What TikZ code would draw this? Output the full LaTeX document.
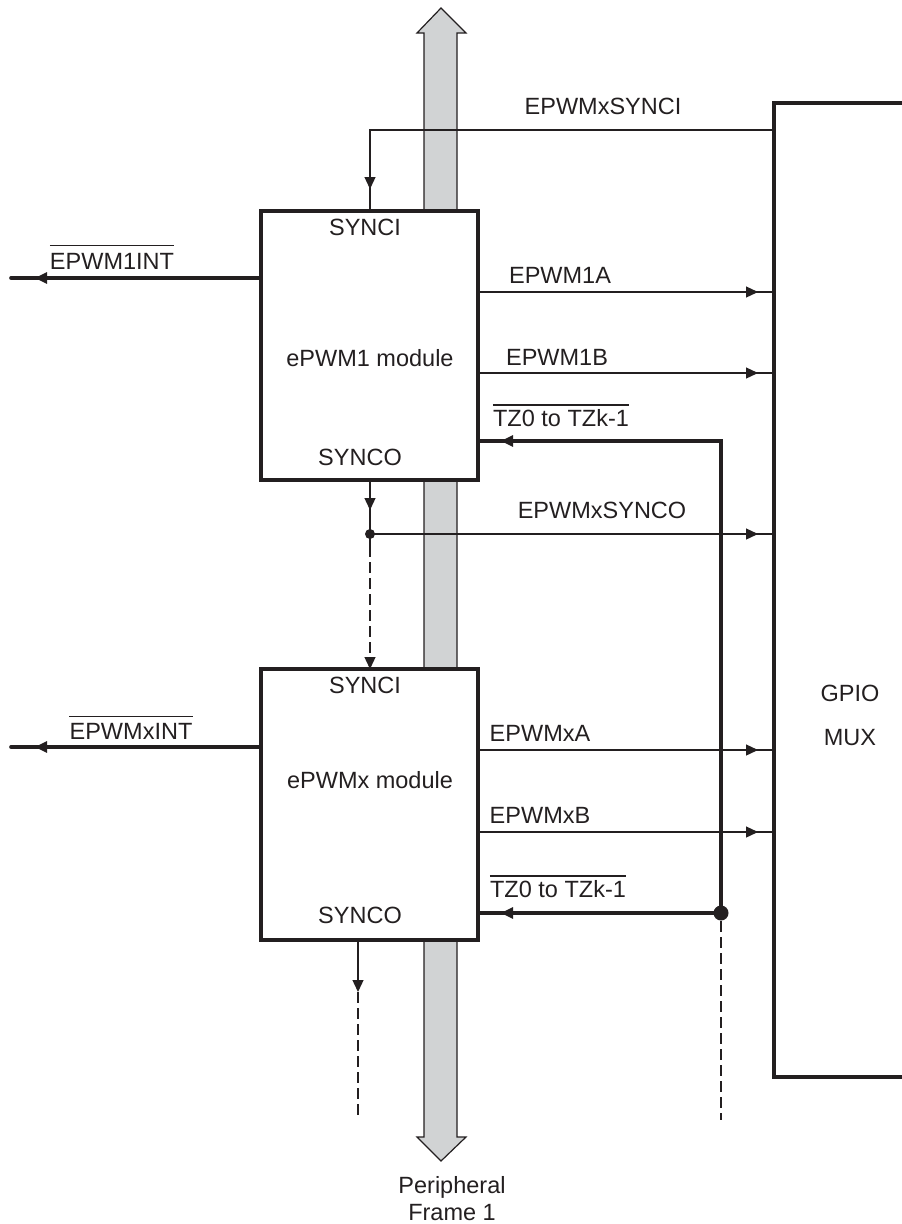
\documentclass[tikz,border=0pt]{standalone}
\usepackage{fontspec}
\setmainfont{Liberation Sans}
\usetikzlibrary{arrows.meta,decorations.markings}
\definecolor{ink}{RGB}{35,31,32}
\definecolor{busgray}{RGB}{209,211,212}
\tikzset{
  lbl/.style={font=\fontsize{23.5}{28}\selectfont, text=ink, inner sep=0pt},
  thinline/.style={draw=ink, line width=1.3pt},
  thickline/.style={draw=ink, line width=3.6pt, line join=miter},
  dashline/.style={draw=ink, line width=1.3pt, dash pattern=on 11pt off 5pt},
  module/.style={draw=ink, line width=3.3pt, fill=white, minimum width=217pt, inner sep=0pt},
  tipend/.style={-{Triangle[length=12pt,width=11pt]}},
  markend/.style={postaction={decorate}, decoration={markings, mark=at position -#1 with {\arrow{Triangle[length=12pt,width=11pt]}}}},
  ovlline/.style={draw=ink, line width=1.4pt},
}
\begin{document}
\begin{tikzpicture}[x=1pt,y=-1pt]
\useasboundingbox (0,0) rectangle (902,1224);

% peripheral frame bus
\filldraw[fill=busgray, draw=ink, line width=1.2pt]
  (441,8) -- (466,33) -- (457,33) -- (457,1137) -- (466,1137) -- (441,1161)
  -- (417,1137) -- (424,1137) -- (424,33) -- (417,33) -- cycle;
\node[lbl] (pf1) at (452,1187) {Peripheral};
\node[lbl] (pf2) at (452,1213) {Frame 1};

% modules
\node[module, minimum height=269pt] (m1) at (369.5,345.5) {};
\node[module, minimum height=271pt] (m2) at (369.5,804.5) {};

\node[lbl] (m1si) at (365,227) {SYNCI};
\node[lbl] (m1nm) at (370,358) {ePWM1 module};
\node[lbl] (m1so) at (360,457) {SYNCO};
\node[lbl] (m2si) at (365,685) {SYNCI};
\node[lbl] (m2nm) at (370,780) {ePWMx module};
\node[lbl] (m2so) at (360,915) {SYNCO};

% GPIO MUX
\coordinate (gtr) at (902,103);
\coordinate (gtl) at (774,103);
\coordinate (gbl) at (774,1077);
\coordinate (gbr) at (902,1077);
\draw[thickline] (gtr) -- (gtl) -- (gbl) -- (gbr);
\node[lbl] (gpio) at (850,693) {GPIO};
\node[lbl] (mux) at (850,738) {MUX};

% EPWMxSYNCI
\coordinate (siR) at (774,130);
\coordinate (siC) at (370,130);
\coordinate (siB) at (370,211);
\draw[thinline, markend=22pt] (siR) -- (siC) -- (siB);
\node[lbl] (lsi) at (603,106) {EPWMxSYNCI};

% ePWM1 outputs
\coordinate (a1L) at (478,292);
\coordinate (a1R) at (774,292);
\coordinate (b1L) at (478,373);
\coordinate (b1R) at (774,373);
\draw[thinline, markend=16pt] (a1L) -- (a1R);
\draw[thinline, markend=16pt] (b1L) -- (b1R);
\node[lbl] (la1) at (560,275) {EPWM1A};
\node[lbl] (lb1) at (557,357) {EPWM1B};

% EPWM1INT
\coordinate (i1R) at (261,278);
\coordinate (i1L) at (11,278);
\draw[thickline, line cap=round, markend=24pt] (i1R) -- (i1L);
\node[lbl] (li1) at (112,261) {EPWM1INT};
\draw[ovlline] ([yshift=7pt]li1.north west) -- ([yshift=7pt]li1.north east);

% EPWMxINT
\coordinate (ixR) at (261,747);
\coordinate (ixL) at (11,747);
\draw[thickline, line cap=round, markend=24pt] (ixR) -- (ixL);
\node[lbl] (lix) at (131,731) {EPWMxINT};
\draw[ovlline] ([yshift=6pt]lix.north west) -- ([yshift=6pt]lix.north east);

% trip zones
\coordinate (tzdot) at (721,913);
\coordinate (tzc) at (721,441);
\coordinate (tz1L) at (478,441);
\coordinate (tz2L) at (478,913);
\coordinate (tzend) at (721,1120);
\draw[thickline, markend=23pt] (tzdot) -- (tzc) -- (tz1L);
\draw[thickline, markend=23pt] (tzdot) -- (tz2L);
\fill[ink] (tzdot) circle (7.5);
\draw[dashline] ([yshift=-8pt]tzdot) -- (tzend);
\node[lbl] (ltz1) at (561,418) {TZ0 to TZk-1};
\draw[ovlline] ([yshift=4pt]ltz1.north west) -- ([yshift=4pt]ltz1.north east);
\node[lbl] (ltz2) at (558,889) {TZ0 to TZk-1};
\draw[ovlline] ([yshift=4pt]ltz2.north west) -- ([yshift=4pt]ltz2.north east);

% SYNCO chain
\coordinate (so1T) at (370,480);
\coordinate (sodot) at (370,534);
\coordinate (sodash) at (370,546);
\coordinate (si2T) at (370,669);
\coordinate (soR) at (774,534);
\draw[thinline, markend=24pt] (so1T) -- (sodot);
\fill[ink] (sodot) circle (5);
\draw[thinline, markend=16pt] (sodot) -- (soR);
\node[lbl] (lso) at (602,510) {EPWMxSYNCO};
\draw[thinline] (sodot) -- (sodash);
\draw[dashline, tipend] (sodash) -- (si2T);

% ePWMx outputs
\coordinate (a2L) at (478,750);
\coordinate (a2R) at (774,750);
\coordinate (b2L) at (478,832);
\coordinate (b2R) at (774,832);
\draw[thinline, markend=16pt] (a2L) -- (a2R);
\draw[thinline, markend=16pt] (b2L) -- (b2R);
\node[lbl] (la2) at (540,733) {EPWMxA};
\node[lbl] (lb2) at (540,815) {EPWMxB};

% SYNCO of ePWMx
\coordinate (so2T) at (358,940);
\coordinate (so2A) at (358,992);
\coordinate (so2E) at (358,1120);
\draw[thinline, tipend] (so2T) -- (so2A);
\draw[dashline] (so2A) -- (so2E);
\end{tikzpicture}
\end{document}
